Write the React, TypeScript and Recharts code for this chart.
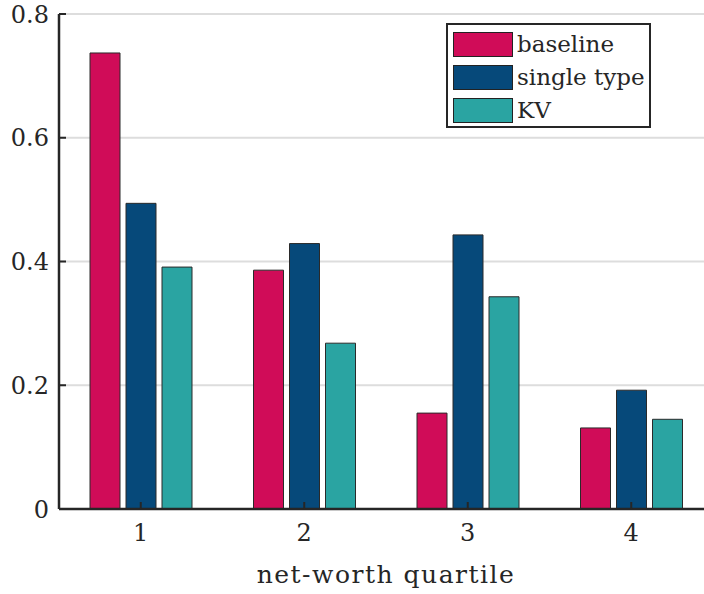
import { BarChart, Bar, XAxis, YAxis, CartesianGrid, Legend } from "recharts";

const quartiles = ["1", "2", "3", "4"];
const baseline = [0.737, 0.386, 0.155, 0.131];
const singleType = [0.494, 0.429, 0.443, 0.192];
const kv = [0.391, 0.268, 0.343, 0.145];
const yTicks = [0, 0.2, 0.4, 0.6, 0.8];

const SERIES = [
  { key: "baseline", name: "baseline", color: "#d00c58" },
  { key: "single", name: "single type", color: "#06497a" },
  { key: "kv", name: "KV", color: "#2aa4a2" },
];

const FONT = "DejaVu Serif";
const INK = "#262626";

const data = quartiles.map((q, i) => ({
  q,
  baseline: baseline[i],
  single: singleType[i],
  kv: kv[i],
}));

// legend drawn from SERIES so the order stays baseline / single type / KV
function LegendBox() {
  return (
    <div
      style={{
        border: `2px solid ${INK}`,
        background: "#fff",
        padding: "3px 6px 0 5px",
        fontFamily: FONT,
        fontSize: 23,
        color: INK,
        width: 205,
        height: 105,
        boxSizing: "border-box",
      }}
    >
      {SERIES.map((s) => (
        <div key={s.key} style={{ display: "flex", alignItems: "center", height: 33 }}>
          <span
            style={{
              display: "inline-block",
              width: 58,
              height: 23,
              background: s.color,
              border: "1px solid #222",
              marginRight: 4,
              flex: "none",
            }}
          />
          <span style={{ lineHeight: "33px", whiteSpace: "nowrap" }}>{s.name}</span>
        </div>
      ))}
    </div>
  );
}

export default function App() {
  return (
    <div
      style={{
        position: "absolute",
        left: 0,
        top: 0,
        width: 704,
        height: 594,
        overflow: "hidden",
        background: "#fff",
        fontFamily: FONT,
      }}
    >
      <BarChart
        width={718}
        height={594}
        data={data}
        margin={{ top: 14, right: 5, left: 0, bottom: 0 }}
        barSize={30}
        barGap={6}
      >
        <CartesianGrid vertical={false} stroke="#dddddd" strokeWidth={2} />
        <XAxis
          dataKey="q"
          height={85}
          axisLine={{ stroke: INK, strokeWidth: 2.5 }}
          tickLine={{ stroke: INK, strokeWidth: 2 }}
          tickSize={-7}
          tickMargin={22}
          tick={{ fill: INK, fontSize: 24, fontFamily: FONT }}
          label={{
            value: "net-worth quartile",
            position: "insideBottom",
            offset: 11,
            fill: INK,
            fontSize: 25,
            fontFamily: FONT,
            letterSpacing: 1.5,
          }}
        />
        <XAxis
          xAxisId="top"
          dataKey="q"
          orientation="top"
          height={0}
          axisLine={{ stroke: INK, strokeWidth: 2.5 }}
          tickLine={{ stroke: INK, strokeWidth: 2 }}
          tickSize={-7}
          tick={false}
        />
        <YAxis
          width={59}
          domain={[0, 0.8]}
          ticks={yTicks}
          axisLine={{ stroke: INK, strokeWidth: 2.5 }}
          tickLine={{ stroke: INK, strokeWidth: 2 }}
          tickSize={-7}
          tickMargin={17}
          tick={{ fill: INK, fontSize: 24, fontFamily: FONT }}
        />
        <Legend
          layout="horizontal"
          verticalAlign="middle"
          align="center"
          wrapperStyle={{ position: "absolute", top: 23, left: 446, width: 205, height: 105 }}
          content={<LegendBox />}
        />
        {SERIES.map((s) => (
          <Bar
            key={s.key}
            dataKey={s.key}
            name={s.name}
            fill={s.color}
            stroke="#2a2a2a"
            strokeWidth={1}
            isAnimationActive={false}
          />
        ))}
      </BarChart>
    </div>
  );
}
